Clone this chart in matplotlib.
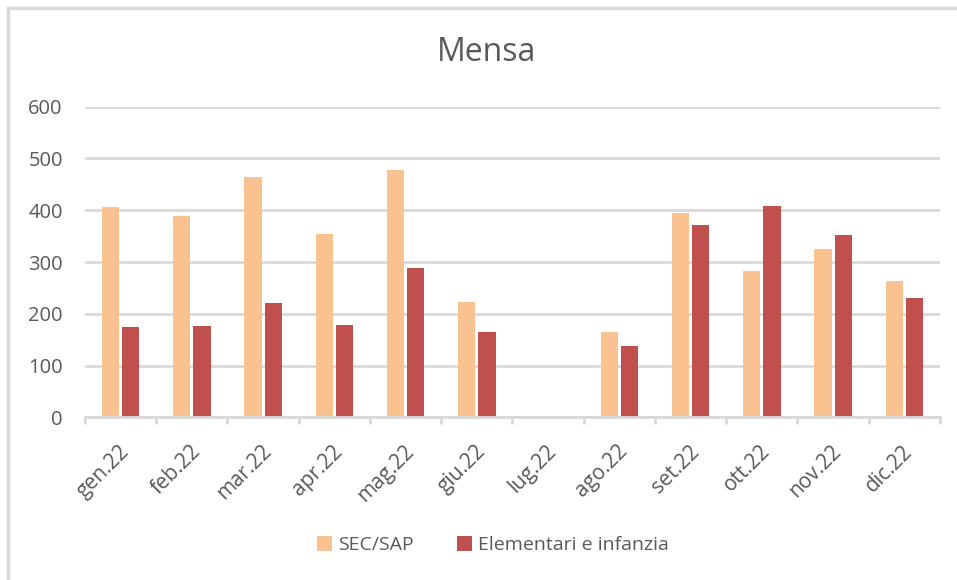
import matplotlib
matplotlib.use('Agg')
import matplotlib.pyplot as plt
import matplotlib.transforms as mtransforms
from matplotlib.patches import Rectangle
import numpy as np

plt.rcParams['font.family'] = ['Open Sans', 'DejaVu Sans']

months = ['gen.22', 'feb.22', 'mar.22', 'apr.22', 'mag.22', 'giu.22',
          'lug.22', 'ago.22', 'set.22', 'ott.22', 'nov.22', 'dic.22']
sec_sap = [406, 389, 464, 354, 478, 223, 0, 165, 395, 283, 325, 263]
elementari = [175, 176, 221, 178, 288, 165, 0, 138, 371, 408, 352, 230]

text_col = '#595959'
grid_col = '#d9d9d9'

fig = plt.figure(figsize=(9.57, 5.8), dpi=100)
ax = fig.add_axes([0.0888, 0.2805, 0.8934, 0.5355])

x = np.arange(len(months))
w = 0.24
ax.bar(x - 0.142, sec_sap, w, color='#f9c290', label='SEC/SAP', zorder=3)
ax.bar(x + 0.142, elementari, w, color='#c0504d', label='Elementari e infanzia', zorder=3)

ax.set_xlim(-0.5, len(months) - 0.5)
ax.set_ylim(0, 600)
ax.set_yticks(range(0, 601, 100))
ax.yaxis.grid(True, color=grid_col, linewidth=2, zorder=0)
ax.tick_params(axis='y', length=0, pad=16, labelsize=14.5, labelcolor=text_col)

for s in ['top', 'right', 'left']:
    ax.spines[s].set_visible(False)
ax.spines['bottom'].set_color(grid_col)
ax.spines['bottom'].set_linewidth(2)
ax.spines['bottom'].set_zorder(4)

# boundaries get tick marks, centres get the labels
ax.set_xticks(np.arange(-0.5, len(months), 1.0))
ax.set_xticklabels([])
ax.tick_params(axis='x', which='major', length=5, width=2, color=grid_col)
ax.set_xticks(x, minor=True)
ax.set_xticklabels(months, minor=True, rotation=45, ha='right', va='top',
                   rotation_mode='anchor', fontsize=15, color=text_col)
ax.tick_params(axis='x', which='minor', length=0, pad=17)
offset = mtransforms.ScaledTranslation(-2 / 100, 0, fig.dpi_scale_trans)
for lab in ax.get_xticklabels(minor=True):
    lab.set_transform(lab.get_transform() + offset)

fig.text(0.508, 0.91, 'Mensa', ha='center', va='center', fontsize=23, color=text_col)

fig.legend(loc='center', bbox_to_anchor=(0.515, 0.06), ncol=2, frameon=False,
           fontsize=14, labelcolor=text_col, handlelength=0.8, handleheight=0.85,
           handletextpad=0.3, columnspacing=2.2)

fig.add_artist(Rectangle((8 / 957, -0.1), 1.2, 1 - 8 / 580 + 0.1, transform=fig.transFigure,
                         fill=False, edgecolor=grid_col, linewidth=2.5))

fig.savefig('out.png', dpi=100)
